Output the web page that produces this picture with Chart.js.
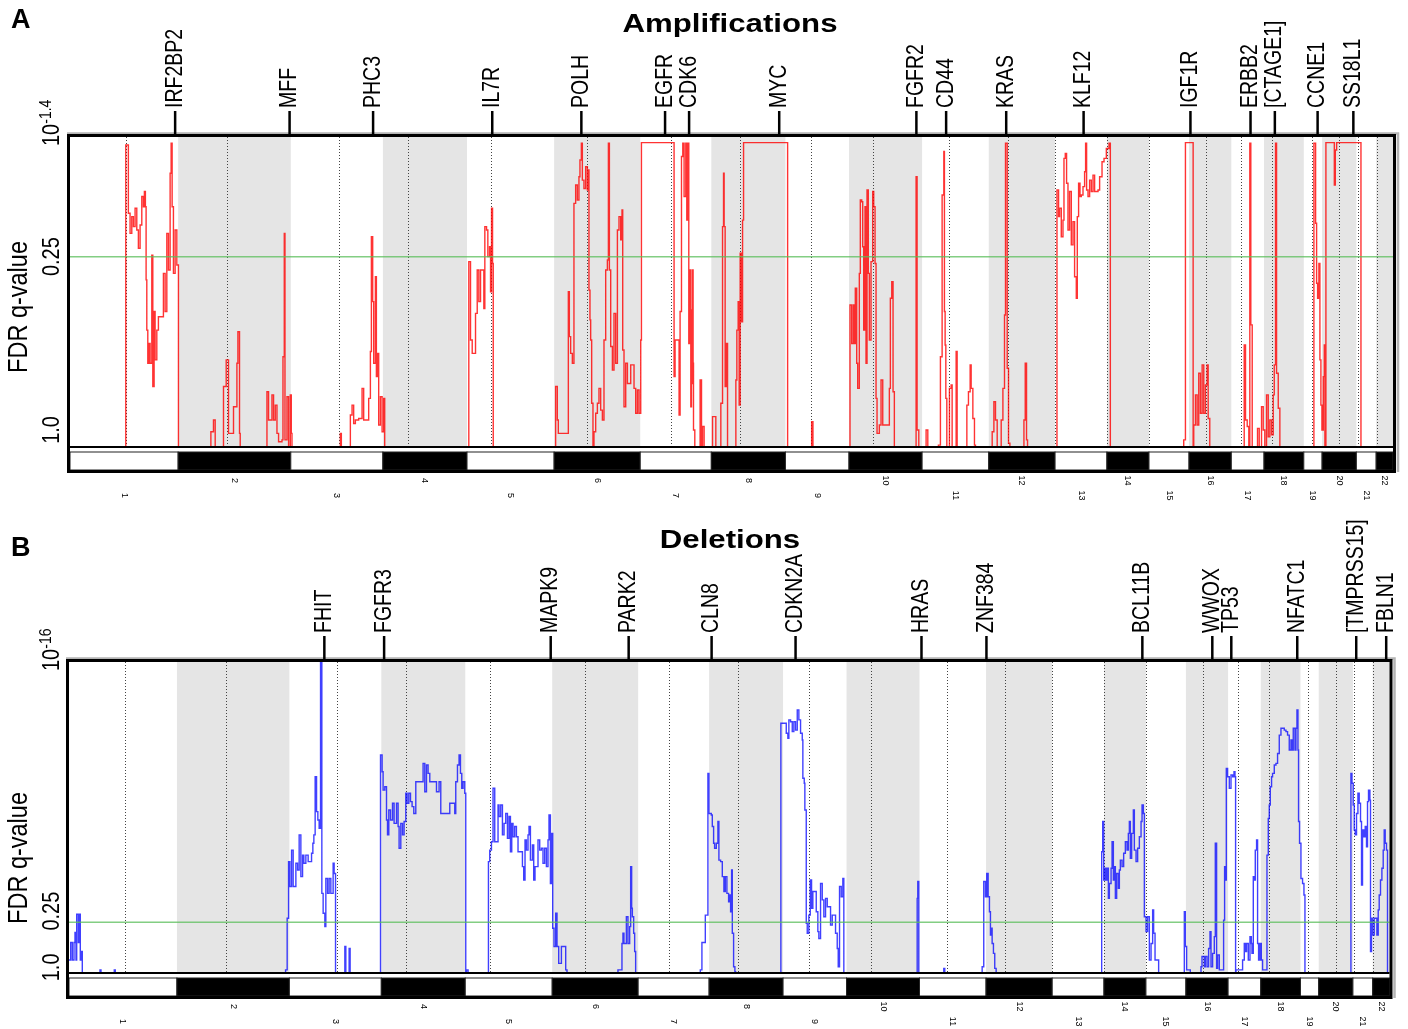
<!DOCTYPE html>
<html>
<head>
<meta charset="utf-8">
<script src="https://cdn.jsdelivr.net/npm/chart.js@4.4.1/dist/chart.umd.min.js"></script>
<style>
  body { margin: 0; background: #fff; }
  canvas { position: absolute; left: 0; }
  #ampChart { top: 0; }
  #delChart { top: 515px; }
</style>
</head>
<body>
<canvas id="ampChart" width="1408" height="515"></canvas>
<canvas id="delChart" width="1408" height="514"></canvas>
<script>
// genome layout, in probe-index units
var chromNames = ['1','2','3','4','5','6','7','8','9','10','11','12','13','14','15','16','17','18','19','20','21','22'];
var chromSize  = [108,112.5,92,84,87,86,71,74,63.5,73,66.6,66.2,51.8,42,40,42.2,32.7,39.7,18.3,34.2,19.8,16.8];
var centromere = [56,48.7,48,24.7,24.3,32.7,31.2,29,25.5,24.3,27.2,19.3,0,0,0,17.3,9.7,8,8,17,1.5,0.5];

// peak genes
var ampGenes   = ['IRF2BP2','MFF','PHC3','IL7R','POLH','EGFR','CDK6','MYC','FGFR2','CD44','KRAS','KLF12','IGF1R','ERBB2','[CTAGE1]','CCNE1','SS18L1'];
var ampGenePos = [105,219.3,302.7,421.7,510.7,594.3,618.3,708.3,845.3,875,935,1012.3,1119,1179,1203.3,1246,1281.7];
var delGenes   = ['FHIT','FGFR3','MAPK9','PARK2','CLN8','CDKN2A','HRAS','ZNF384','BCL11B','WWOX','TP53','NFATC1','[TMPRSS15]','FBLN1'];
var delGenePos = [255.5,315.3,482,560,643,727,853,918,1074,1144,1163,1229,1288,1318];

// y axis (score 0-100), q-value tick labels
var ampTickPos = [5.5, 61.4, 100];
var delTickPos = [1.8, 19.9, 100];
var ampTickLabels = ['1.0', '0.25', '10^-1.4'];
var delTickLabels = ['1.0', '0.25', '10^-16'];
var ampCutoff = 61.4;   // q = 0.25
var delCutoff = 16.3;

// amplification score steps [position, score]
var ampSteps = [
  [0,0],[55.7,97.4],[58.3,75.4],[60,68.9],[61.7,74.3],[63.3,71.1],[65,77],[66.7,70],[68.3,64.1],[70,71.6],[71.7,80.8],[73.3,77.5],[74.3,82.4],[75.3,77.5],[76,53.9],[76.7,37.7],[77.7,27],[78.7,33.4],[80,27],[81.7,61.9],[82.7,19.5],[84,43.7],[85,28.1],[86.7,37.7],[88.3,42],[93.3,56],[95,43.7],[96.7,68.9],[98.3,57.1],[100,88.3],[101,98],[102,77.5],[103.3,56],[105,70],[106.7,58.7],[108.3,0],
  [140.7,4.9],[143.3,8.7],[145,0],[153.3,19.5],[156,28.1],[158.3,4.4],[163.3,13],[166.7,27],[167.7,37.2],[169.3,4.4],[170,0],[196.7,17.8],[198.3,8.7],[201.7,16.8],[203.3,8.7],[205,13.5],[206.7,4.4],[208.3,1.7],[211.7,2.3],[212.7,29.1],[214,68.9],[214.7,2.3],[216.7,16.2],[218.3,0],[220,16.8],[221,4.4],[221.7,0],
  [270,4.4],[271,0],[280,10.3],[281.7,13.5],[283.3,7.6],[285,8.7],[288.3,9.2],[291.7,18.9],[293.3,8.7],[298.3,15.7],[300,30.8],[301,67.8],[302.3,46.9],[303.3,27],[305,54.9],[306,22.7],[307.3,30.2],[308.3,7.1],[310,16.2],[311.7,4.9],[313.3,15.7],[314.3,0],
  [398.3,59.8],[400,34.5],[401.7,30.2],[405,43.1],[406.7,57.1],[408.3,46.9],[410,57.1],[413.3,44.7],[414.3,71.1],[416,70],[417.3,61.4],[419,64.6],[420,50.1],[421,77],[422,59.2],[422.7,0],
  [485,19.5],[486.7,8.7],[487.7,4.4],[497.7,50.1],[498.7,35.6],[500,30.2],[501.7,27],[503.3,78.6],[505,84.5],[506.7,79.7],[508.3,87.2],[509.3,92.6],[510.7,98],[511.7,86.1],[513.3,83.4],[515,90.4],[516.7,82.9],[517.7,89.4],[518.3,50.6],[519.3,41],[520,34.5],[521,14.1],[522.3,0.1],[523.3,4.9],[525,10.9],[526.7,14.1],[528.3,18.9],[530,11.9],[531.7,8.7],[533.3,34.5],[535,57.1],[536.7,60.3],[537.7,98],[538.7,57.1],[540,32.4],[541.7,24.8],[543.3,43.1],[545,27],[546.7,70],[548.3,74.3],[550,66.8],[551.3,76.5],[552,31.3],[553.3,13],[555,27],[556.7,20.5],[560,26.5],[563.3,18.9],[565,10.9],[566.7,18.4],[568.3,10.9],[570,34.5],
  [570.7,98.2],[603.3,22.7],[604.3,34.5],[608.3,10.3],[609.3,43.7],[610.7,93.7],[612,98],[613.3,80.8],[615,98],[616,73.2],[617,98],[618,33.4],[619,57.1],[620,13],[620.7,44.2],[621.3,20.5],[621.7,57.1],[622.3,27],[622.7,5.5],[624,0],[629.3,21.6],[630.7,0],[631.7,6.6],[633.3,0],
  [641.7,9.8],[645,0],[650,14.1],[651.7,71.1],[652.7,88.3],[653.3,71.1],[654.3,19.5],[655.7,33.4],[656.7,0],[665,21.6],[666,37.7],[667.3,46.9],[668.3,13.5],[669.3,62.5],[670.7,40.4],[671.7,73.2],[672.7,98.2],[716.7,0],
  [740.7,8.2],[742,0],
  [779,45.8],[780.7,33.4],[782.3,45.8],[783.3,33.4],[784.3,51.2],[785.7,27],[786.7,18.9],[788.3,56],[789.3,79.7],[790.7,79.1],[791.7,64.6],[792.7,37.7],[794,77.5],[795,27],[796,82.9],[797.3,56],[798.3,34.5],[800,59.8],[801.7,82.4],[802.7,77.5],[804,59.2],[805,15.7],[806,4.4],[808.3,7.1],[810,21.6],[811.7,7.1],[818.3,18.9],[819.3,48],[820.7,53.3],[822,17.8],[823.3,0],[845,87.2],[846,5.5],[847.7,0],[855,5.5],[856.7,0],
  [867.3,0.6],[869.3,29.1],[871,81.3],[872.7,95.3],[873.3,43.7],[874,32.9],[874.7,15.7],[875.7,0],[878.3,18.9],[880,20],[881,0],[885,30.8],[886,0],[895.7,13.5],[897.3,17.8],[899,26.5],[900,18.9],[901.7,9.2],[903.3,0.6],[904.3,0],
  [921,4.9],[922.7,14.6],[924.3,8.7],[926,0],[930,8.7],[931.7,18.9],[933.3,42.6],[934.3,98],[936,25.4],[937.3,1.2],[938.7,0],[952.7,8.7],[954,27],[955.3,2.3],[956.3,0],
  [985.7,82.9],[987.3,74.3],[988.3,77],[990,67.8],[991.7,73.2],[992.7,93.1],[994,94.7],[995.3,85.1],[996.7,70],[998.3,82.4],[1000,65.2],[1001.7,72.7],[1003.3,54.9],[1005,48],[1006,74.3],[1007.3,85.1],[1008.7,80.8],[1010,81.3],[1011.7,84],[1013.3,88.8],[1014.3,98],[1015.3,82.9],[1016.7,80.8],[1018.3,86.1],[1020,82.4],[1021.7,87.7],[1023.3,82.4],[1026.7,82.9],[1028.3,87.2],[1030.7,92],[1032.7,93.1],[1035,96.3],[1037.7,98],[1039,0],
  [1112.3,2.3],[1114,98.2],[1121.7,0],[1122.3,7.1],[1124,16.8],[1125.7,7.1],[1127.3,23.8],[1129,10.9],[1130.7,26.5],[1132.3,10.9],[1134,20],[1135.7,26.5],[1136.7,9.2],[1138.3,0],
  [1172.7,32.9],[1174,8.7],[1175.7,6.6],[1177.3,0],[1178.3,98],[1179.3,39.4],[1180.7,0],[1186,6],[1187.7,0],[1190,13],[1191.7,5.5],[1193.3,0],
  [1195,16.8],[1196.7,3.3],[1198.3,8.7],[1200,3.9],[1201.7,16.8],[1202.7,26.5],[1204,98],[1205,23.8],[1206.7,12.5],[1208.3,0],
  [1242.3,98],[1244,72.2],[1245,52.8],[1246,48],[1247.3,59.2],[1248.3,28.1],[1249.3,13.5],[1250.3,5.5],[1251.7,22.7],[1252.7,32.9],[1253.3,0],
  [1254.3,98.2],[1262.7,84.5],[1263.7,95.8],[1265,98.2],[1289.3,0],[1321.3,0]
];

// deletion score steps [position, score]
var delSteps = [
  [0,4.2],[1.7,9.8],[3.3,4.2],[5,9.8],[6,13],[7,4.2],[7.7,18.9],[9.3,9.8],[10.3,18.9],[11.3,4.2],[12.3,6.9],[13.3,0],[31,1],[32,0],[45.3,1],[46.3,0],
  [216.7,1],[218.3,17.6],[219.7,35.8],[221,27.8],[222.7,39.5],[224.3,27.8],[227,35.3],[228.7,33.1],[230.3,44.4],[232,31],[233.7,37.9],[235,35.3],[237,37.9],[239.3,35.8],[242.7,38.5],[244,41.7],[245,44.4],[246.3,63.1],[247.7,51.9],[249,49.2],[250.3,46.5],[251.7,100],[253,25.6],[254.3,19.2],[256,14.9],[257,30.4],[258.7,25.6],[260.3,30.4],[262,25.6],[264.3,35.3],[265.3,32],[266.7,0],[276,8.5],[277,0],[280.3,7.9],[281.3,0],
  [311.7,70.1],[313.3,64.7],[314.3,58.8],[316,59.9],[317.7,49.2],[318.7,44.4],[320,52.4],[321.7,49.2],[323.7,54.6],[325.3,48.1],[327.7,54.6],[329.3,47.1],[330.3,40.1],[332,48.1],[333.7,44.4],[335.3,48.7],[337,57.8],[338.3,54.6],[340,57.8],[341.7,55.1],[343.3,53.5],[345,51.3],[347,61.5],[354.3,67.4],[356,58.3],[357.7,66.9],[359.3,64.2],[361,61.5],[367.7,58.3],[370.3,61.5],[372,51.3],[381,54.6],[386,51.3],[387,61.5],[388.7,66.9],[390.3,70.1],[391.7,64.2],[393,59.4],[394.3,61.5],[396,57.8],[397,0],[397.7,1],[399.3,0],
  [419.7,35.8],[421,39.5],[422.7,42.2],[424.3,59.4],[426,42.2],[429.3,54],[430.3,50.3],[432,54],[433.7,44.4],[435.3,48.1],[437,51.3],[438.7,43.3],[440.3,50.3],[441.7,39],[443,48.1],[444.3,43.8],[446,47.1],[447.7,43.8],[449.3,39],[453.7,34.2],[455,29.9],[456.3,42.8],[457.7,39.5],[459.3,44.4],[460.3,47.1],[461.7,36.3],[463.7,41.2],[465,29.9],[466.3,34.2],[469.3,42.8],[471,39.5],[472.7,40.1],[474.3,35.3],[476,40.1],[477.7,34.2],[479.3,42.8],[480.3,50.8],[481.7,28.8],[483,44.9],[484,14.4],[485.3,8.5],[487,19.2],[488.3,8.5],[490,3.1],[492.7,8.5],[497,1],[498.3,0],
  [549.3,1],[553.3,9.5],[554.3,12.8],[555.3,9.5],[557.7,18.1],[559.3,9.5],[561,14.9],[562,34.2],[563,20.8],[563.7,18.1],[565,12.8],[566,6.9],[567,0],
  [631.7,1],[633.3,9.8],[636.7,18.6],[639.3,64.2],[640.3,51.3],[642.7,50.8],[643.7,47.1],[645,41.7],[646,40.1],[647.7,41.7],[649.3,48.7],[650.3,36.3],[652,35.8],[653.7,31],[655.3,26.2],[656.7,31],[658.3,25.6],[660,22.9],[661,25.1],[662,19.7],[663,33.1],[663.7,12.8],[665,2],[666.3,0.4],[667,0],
  [712.3,80.3],[717.7,77.1],[719.3,75.5],[720.3,81.4],[722,80.8],[723.7,77.6],[725.3,80.8],[727,78.1],[728.7,84.6],[730.3,81.4],[732,77.1],[733.7,74.9],[734.3,62.6],[735.7,61],[736.3,52.4],[737.7,16],[738.7,12.8],[740.3,18.6],[741.7,29.9],[743,20.8],[744.3,26.2],[747.7,19.7],[749.3,13.3],[750.3,11.1],[752,28.8],[753.7,23.5],[755.3,18.1],[757,24],[758.7,21.3],[762,15.4],[763.7,18.6],[767,12.8],[768.7,7.9],[769.7,2],[771,27.8],[772.7,24.5],[774.3,30.4],[775.3,0],
  [848.7,24],[849.3,29.4],[850.3,0],[875.3,1.5],[876.3,0],
  [913.7,2],[915.3,29.4],[917,24.5],[918.3,32],[919.7,24.5],[921,19.7],[922,12.2],[923,14.4],[923.7,9.5],[925,6.3],[926.3,1.5],[927.7,0],
  [1033.3,39],[1034.3,48.7],[1035.3,29.9],[1036.7,33.7],[1037.7,29.9],[1038.7,33.7],[1040,24],[1041,28.8],[1042.7,33.7],[1043.7,42.2],[1045,29.9],[1046,34.2],[1047,24],[1048.3,32],[1050,27.2],[1051,33.1],[1052,36.3],[1053.7,34.2],[1055.3,38.5],[1057,42.2],[1058.7,39.5],[1060,44.9],[1061,48.7],[1062,36.9],[1063.3,44.9],[1065,52.4],[1066,39.5],[1067.7,35.8],[1069.3,40.1],[1071,43.8],[1072.7,48.7],[1073.7,54],[1075,51.3],[1076,18.1],[1077.7,13.3],[1079.3,18.1],[1081,4.2],[1082.7,9.5],[1084.3,20.3],[1085.3,12.8],[1086.7,4.2],[1090.3,0],
  [1116,19.7],[1117,8.5],[1118.3,1],[1122,0],[1132.7,2],[1133.7,5.3],[1136,2],[1137,5.3],[1138.7,2],[1140.3,7.9],[1141.7,13.3],[1142.7,2],[1144.3,6.3],[1146,11.7],[1147,41.7],[1148.3,1.5],[1149.3,5.8],[1151,1],[1155.3,17],[1156.3,34.2],[1157.3,29.9],[1158,65.8],[1159.3,63.1],[1161,59.4],[1162.7,63.7],[1164.3,63.1],[1165.7,64.7],[1166.7,63.1],[1167.3,0],
  [1167.7,1],[1174.3,4.2],[1176,9.5],[1177,6.9],[1178.3,9.5],[1180,4.2],[1181.7,11.7],[1183,9.5],[1183.7,6.3],[1185,31],[1186,29.9],[1187,39.5],[1188.3,42.8],[1189.3,9.5],[1190.3,4.2],[1191.7,9.5],[1193,4.2],[1194.3,1],
  [1198.7,37.9],[1200,49.7],[1201,54],[1202,59.9],[1203.3,63.1],[1204.3,64.2],[1206,66.9],[1207.7,67.4],[1209.3,70.6],[1211,76.5],[1212.7,78.7],[1216,78.1],[1217.7,77.6],[1219.3,76.5],[1221,71.7],[1222.7,74.9],[1223.7,71.7],[1225,78.7],[1226.7,71.7],[1227.7,78.7],[1228.7,84.6],[1229.7,71.7],[1230.3,48.7],[1231.3,41.7],[1232.7,30.4],[1234.3,28.8],[1235.7,25.1],[1236.7,0],
  [1282.7,64.2],[1283.7,61],[1285,54],[1286,46],[1287,44.4],[1288.3,51.3],[1289.7,57.8],[1291,54.6],[1292.3,48.7],[1293.3,28.3],[1294.3,46],[1295.7,43.8],[1297,47.1],[1298.3,40.6],[1299.3,55.1],[1300.3,58.8],[1301.7,55.6],[1302.3,6.9],[1303.3,17.6],[1304.3,12.2],[1306,17.6],[1308.7,12.2],[1310,20.3],[1311,25.1],[1312.3,29.9],[1313.7,33.7],[1315,39.5],[1316,46],[1317,41.7],[1318.3,39.5],[1319.3,0],[1321.3,0]
];

var FONT = '"Liberation Sans", Arial, Helvetica, sans-serif';
var genomeLen = chromSize.reduce(function (s, v) { return s + v; }, 0);

function txt(ctx, s, x, y, px, o) {
  o = o || {};
  ctx.save();
  ctx.translate(x, y);
  ctx.scale(o.sx || 1, 1);
  if (o.rot) ctx.rotate(o.rot);
  ctx.font = (o.bold ? 'bold ' : '') + px + 'px ' + FONT;
  ctx.textAlign = o.align || 'center';
  ctx.textBaseline = o.base || 'middle';
  ctx.fillStyle = '#000';
  ctx.fillText(s, 0, 0);
  ctx.restore();
}

// y label that may carry a superscript, e.g. 10^-1.4 (rotated, reading upwards)
function yTickLabel(ctx, label, x, y) {
  var parts = label.split('^');
  ctx.save();
  ctx.translate(x, y);
  ctx.scale(1.15, 1);
  ctx.rotate(-Math.PI / 2);
  ctx.fillStyle = '#000';
  ctx.textBaseline = 'middle';
  ctx.font = '20px ' + FONT;
  if (parts.length === 1) {
    ctx.textAlign = 'center';
    ctx.fillText(label, 0, 0);
  } else {
    ctx.textAlign = 'left';
    ctx.fillText(parts[0], 0, 0);
    var w = ctx.measureText(parts[0]).width;
    ctx.font = '14px ' + FONT;
    ctx.fillText(parts[1], w, -6);
  }
  ctx.restore();
}

function genomePlugin(p) {
  return {
    id: 'genome',
    beforeDatasetsDraw: function (chart) {
      var ctx = chart.ctx, a = chart.chartArea, x = chart.scales.x;
      ctx.save();
      var start = 0;
      chromSize.forEach(function (len, i) {
        var x0 = x.getPixelForValue(start), x1 = x.getPixelForValue(start + len);
        if (i % 2 === 1) {
          ctx.fillStyle = '#e5e5e5';
          ctx.fillRect(x0, a.top, x1 - x0, a.bottom - a.top);
        }
        start += len;
      });
      ctx.strokeStyle = '#444';
      ctx.lineWidth = 1;
      ctx.setLineDash([1, 2]);
      start = 0;
      chromSize.forEach(function (len, i) {
        var cx = Math.round(x.getPixelForValue(start + centromere[i])) + 0.5;
        ctx.beginPath();
        ctx.moveTo(cx, a.top);
        ctx.lineTo(cx, a.bottom);
        ctx.stroke();
        start += len;
      });
      ctx.restore();
    },
    afterDatasetsDraw: function (chart) {
      var ctx = chart.ctx, a = chart.chartArea, y = chart.scales.y;
      var gy = y.getPixelForValue(p.cutoff);
      ctx.save();
      ctx.strokeStyle = 'rgba(90,190,90,0.75)';
      ctx.lineWidth = 1.5;
      ctx.beginPath();
      ctx.moveTo(a.left, gy);
      ctx.lineTo(a.right, gy);
      ctx.stroke();
      ctx.restore();
    },
    afterDraw: function (chart) {
      var ctx = chart.ctx, a = chart.chartArea, x = chart.scales.x, y = chart.scales.y;
      var barTop = a.bottom + 5, barBot = a.bottom + 23;
      ctx.save();

      // grey shadow edge
      ctx.strokeStyle = '#b4b4b4';
      ctx.lineWidth = 2.5;
      ctx.beginPath();
      ctx.moveTo(a.left - 3, a.top - 3.5);
      ctx.lineTo(a.right + 5, a.top - 3.5);
      ctx.lineTo(a.right + 5, barBot + 2);
      ctx.stroke();

      // white gap between plot and chromosome bar
      ctx.fillStyle = '#fff';
      ctx.fillRect(a.left, a.bottom + 1, a.right - a.left, 4);

      // chromosome bar
      var start = 0;
      chromSize.forEach(function (len, i) {
        var x0 = x.getPixelForValue(start), x1 = x.getPixelForValue(start + len);
        ctx.fillStyle = i % 2 === 1 ? '#000' : '#fff';
        ctx.fillRect(x0, barTop, x1 - x0, barBot - barTop);
        ctx.strokeStyle = '#222';
        ctx.lineWidth = 1;
        ctx.strokeRect(x0, barTop, x1 - x0, barBot - barTop);
        var cx = (x0 + x1) / 2;
        txt(ctx, chromNames[i], cx, i % 2 === 1 ? barBot + 10.5 : barBot + 25.5, 9, { rot: Math.PI / 2 });
        start += len;
      });

      // baseline and frame
      ctx.strokeStyle = '#000';
      ctx.lineWidth = 2;
      ctx.beginPath();
      ctx.moveTo(a.left, a.bottom);
      ctx.lineTo(a.right, a.bottom);
      ctx.stroke();
      ctx.lineWidth = 3;
      ctx.strokeRect(a.left - 1.5, a.top - 1.5, a.right - a.left + 3, barBot - a.top + 3);

      // peak gene ticks and labels
      ctx.lineWidth = 2.5;
      p.genes.forEach(function (g, i) {
        var gx = x.getPixelForValue(p.genePos[i]);
        ctx.beginPath();
        ctx.moveTo(gx, a.top - 26);
        ctx.lineTo(gx, a.top);
        ctx.stroke();
        txt(ctx, g, gx, a.top - 29, 19.5, { rot: -Math.PI / 2, align: 'left', sx: 1.2 });
      });

      // y tick labels
      p.tickPos.forEach(function (v, i) {
        var ty = y.getPixelForValue(v);
        if (i === p.tickPos.length - 1) ty += 9;
        yTickLabel(ctx, p.tickLabels[i], 53, ty);
      });

      // titles
      txt(ctx, 'FDR q-value', 20, p.yTitleY, 23.5, { rot: -Math.PI / 2, sx: 1.15 });
      txt(ctx, p.title, 730, p.titleY, 26, { bold: true, sx: 1.2, base: 'alphabetic' });
      txt(ctx, p.letter, 11, p.letterY, 27, { bold: true, align: 'left', base: 'alphabetic' });
      ctx.restore();
    }
  };
}

function makePanel(p) {
  var pts = p.steps.map(function (s) { return { x: s[0], y: s[1] }; });
  return new Chart(document.getElementById(p.canvas), {
    type: 'line',
    data: {
      datasets: [{
        data: pts,
        borderColor: p.color,
        borderWidth: 1.4,
        stepped: true,
        pointRadius: 0,
        fill: false
      }]
    },
    options: {
      responsive: false,
      animation: false,
      events: [],
      layout: { padding: p.pad },
      plugins: { legend: { display: false }, tooltip: { enabled: false }, title: { display: false } },
      scales: {
        x: { type: 'linear', min: 0, max: genomeLen, display: false },
        y: { type: 'linear', min: 0, max: 100, display: false }
      }
    },
    plugins: [genomePlugin(p)]
  });
}

makePanel({
  canvas: 'ampChart', steps: ampSteps, color: 'rgba(255,0,0,0.8)',
  pad: { left: 70, right: 15, top: 137, bottom: 68 },
  cutoff: ampCutoff, tickPos: ampTickPos, tickLabels: ampTickLabels,
  genes: ampGenes, genePos: ampGenePos,
  title: 'Amplifications', titleY: 32, letter: 'A', letterY: 28, yTitleY: 307
});

makePanel({
  canvas: 'delChart', steps: delSteps, color: 'rgba(0,0,255,0.75)',
  pad: { left: 69, right: 18.5, top: 147, bottom: 56 },
  cutoff: delCutoff, tickPos: delTickPos, tickLabels: delTickLabels,
  genes: delGenes, genePos: delGenePos,
  title: 'Deletions', titleY: 33, letter: 'B', letterY: 41, yTitleY: 343
});
</script>
</body>
</html>
